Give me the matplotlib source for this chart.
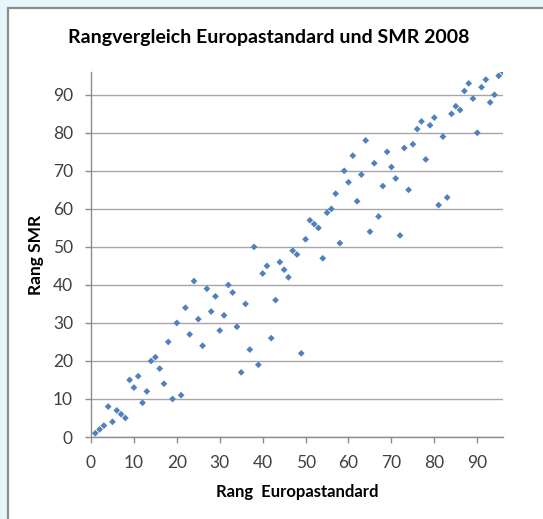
import matplotlib
matplotlib.use("Agg")
import matplotlib.pyplot as plt
from matplotlib.patches import Rectangle

plt.rcParams['font.family'] = ['Lato', 'DejaVu Sans']

# Rang Europastandard (x) und Rang SMR (y)
rang_europa = list(range(1, 97))
rang_smr = [
    1, 2, 3, 8, 4, 7, 6, 5, 15, 13,
    16, 9, 12, 20, 21, 18, 14, 25, 10, 30,
    11, 34, 27, 41, 31, 24, 39, 33, 37, 28,
    32, 40, 38, 29, 17, 35, 23, 50, 19, 43,
    45, 26, 36, 46, 44, 42, 49, 48, 22, 52,
    57, 56, 55, 47, 59, 60, 64, 51, 70, 67,
    74, 62, 69, 78, 54, 72, 58, 66, 75, 71,
    68, 53, 76, 65, 77, 81, 83, 73, 82, 84,
    61, 79, 63, 85, 87, 86, 91, 93, 89, 80,
    92, 94, 88, 90, 95, 96,
]
x_ticks = list(range(0, 100, 10))
y_ticks = list(range(0, 100, 10))

fig = plt.figure(figsize=(5.43, 5.19), dpi=100)
fig.patch.set_facecolor('#E8F5FD')

# weisser Diagrammbereich mit grauem Rahmen
fig.add_artist(Rectangle((7.5 / 543, -0.05), 1.0, 1.05 - 7.5 / 519,
                         transform=fig.transFigure, facecolor='white',
                         edgecolor='#8C8C8C', linewidth=1.6, zorder=0))

ax = fig.add_axes([91 / 543, 1 - 437 / 519, (503 - 91) / 543, (437 - 72) / 519])
ax.set_facecolor('white')

ax.scatter(rang_europa, rang_smr, marker='D', s=12, color='#4F81BD',
           edgecolors='none', zorder=3)

ax.set_xlim(0, 96)
ax.set_ylim(0, 96)
ax.set_xticks(x_ticks)
ax.set_yticks(y_ticks)
ax.yaxis.grid(True, color='#A6A6A6', linewidth=1.0)
ax.set_axisbelow(True)

for side in ['top', 'right']:
    ax.spines[side].set_visible(False)
for side in ['left', 'bottom']:
    ax.spines[side].set_color('#8C8C8C')
    ax.spines[side].set_linewidth(1.0)

ax.tick_params(axis='both', colors='#8C8C8C', labelcolor='#404040',
               labelsize=12.5, length=4, width=1.0)
ax.tick_params(axis='y', pad=9)
ax.tick_params(axis='x', pad=9)

ax.set_xlabel('Rang  Europastandard', fontsize=12, fontweight='bold', labelpad=9)
ax.set_ylabel('Rang SMR', fontsize=12.5, fontweight='bold', labelpad=6)

fig.text(269 / 543, 1 - 37 / 519, 'Rangvergleich Europastandard und SMR 2008',
         ha='center', va='center', fontsize=14, fontweight='bold')

fig.savefig('out.png', dpi=100, facecolor=fig.get_facecolor())
